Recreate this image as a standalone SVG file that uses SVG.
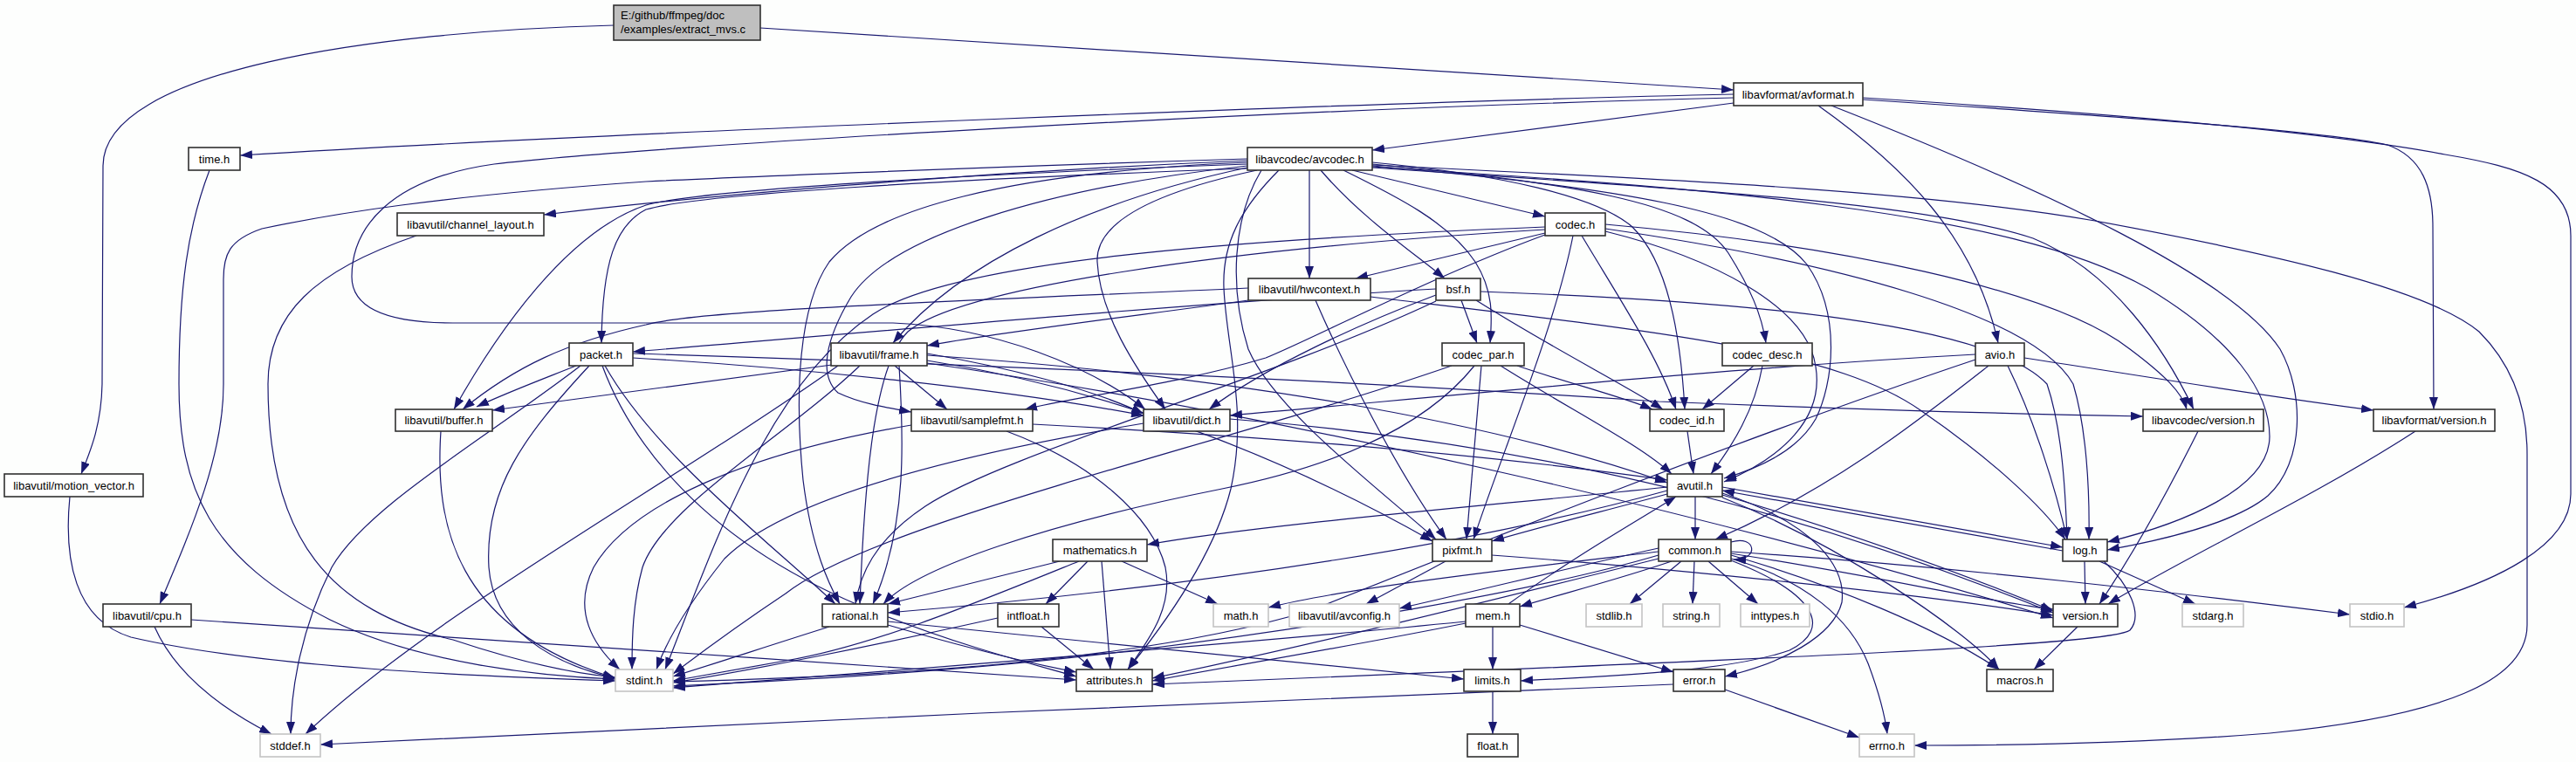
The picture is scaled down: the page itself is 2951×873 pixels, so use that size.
<svg xmlns="http://www.w3.org/2000/svg" width="2951" height="873" viewBox="0 0 2951 873">
<defs>
<style>
.e{fill:none;stroke:#191970;stroke-width:1.2;marker-end:url(#a)}
.n rect{fill:#ffffff;stroke:#303030;stroke-width:1.6}
.g rect{fill:#ffffff;stroke:#c4c4c4;stroke-width:1.6}
text{font-family:"Liberation Sans",Arial,sans-serif;font-size:13px;fill:#000000;text-anchor:middle}
</style>
<marker id="a" markerWidth="14" markerHeight="10" refX="14" refY="5" orient="auto" markerUnits="userSpaceOnUse"><path d="M0,0 L14,5 L0,10 Z" fill="#191970"/></marker>
</defs>
<rect x="0" y="0" width="2951" height="873" fill="#fdfefd"/>
<g id="edges">
<path class="e" d="M703,29 C430,36 118,80 118,190 L117,440 C116,490 102,520 93,543"/>
<path class="e" d="M871,32 L1986,103"/>
<path class="e" d="M1986,108 C1600,116 700,152 275,178"/>
<path class="e" d="M1986,112 C1480,124 740,167 566,188 C445,205 403,262 403,317 C403,352 440,370 519,370 L1023,370 C1140,375 1250,420 1312,469"/>
<path class="e" d="M2134,112 C2500,135 2700,158 2801,177 C2890,192 2945,210 2945,270 L2945,566 C2945,625 2860,668 2754,696"/>
<path class="e" d="M2134,114 C2450,135 2660,150 2735,166 C2775,180 2787,215 2787,260 L2788,469"/>
<path class="e" d="M2083,121 C2180,190 2262,270 2289,393"/>
<path class="e" d="M2098,121 C2350,220 2560,320 2612,400 C2640,450 2640,530 2598,568 C2560,600 2470,620 2414,630"/>
<path class="e" d="M1986,118 L1572,172"/>
<path class="e" d="M1500,195 L1500,319"/>
<path class="e" d="M1513,195 C1560,250 1620,290 1655,319"/>
<path class="e" d="M1549,195 L1770,248"/>
<path class="e" d="M1539,195 C1600,225 1660,255 1690,300 C1712,335 1709,365 1707,393"/>
<path class="e" d="M1572,188 C1800,210 1940,230 1980,290 C2005,330 2018,360 2023,393"/>
<path class="e" d="M1572,190 C1850,215 2020,240 2070,303 C2110,360 2100,440 2080,480 C2060,515 2020,535 1975,548"/>
<path class="e" d="M1572,186 C1720,200 1830,225 1870,260 C1910,300 1925,380 1930,469"/>
<path class="e" d="M1572,192 C1900,215 2200,230 2329,273 C2420,310 2480,400 2513,469"/>
<path class="e" d="M1572,191 C1950,215 2300,240 2460,330 C2560,390 2600,450 2600,500 C2600,560 2500,600 2414,621"/>
<path class="e" d="M1572,189 C1900,205 2200,218 2400,253 C2600,290 2780,330 2840,380 C2880,420 2895,470 2895,520 L2895,716 C2895,780 2800,820 2600,840 C2450,852 2300,854 2193,854"/>
<path class="e" d="M1429,190 C1200,215 1020,270 975,340 C945,390 938,430 960,450 C985,462 1015,467 1044,472"/>
<path class="e" d="M1429,192 C1250,230 1100,300 1023,393"/>
<path class="e" d="M1440,195 C1300,225 1255,262 1257,300 C1260,360 1300,420 1335,469"/>
<path class="e" d="M1429,186 C1150,198 1000,240 950,300 C915,350 910,450 920,550 C930,630 950,670 962,692"/>
<path class="e" d="M1465,195 C1420,240 1400,280 1402,330 C1405,400 1430,470 1410,560 C1390,640 1330,720 1292,767"/>
<path class="e" d="M1429,188 C1100,200 800,218 740,235 C650,265 570,380 520,469"/>
<path class="e" d="M1429,184 C1100,198 800,225 623,246"/>
<path class="e" d="M1429,182 C1100,192 800,205 740,208 C500,225 380,245 300,262 C262,275 256,292 256,320 L256,440 C256,520 222,600 183,692"/>
<path class="e" d="M1429,193 C1100,205 800,222 740,240 C705,258 690,300 689,393"/>
<path class="e" d="M1445,195 C1412,250 1408,330 1430,400 C1460,470 1580,560 1645,618"/>
<path class="e" d="M1770,260 C1400,275 1090,300 1000,360 C880,440 820,620 762,767"/>
<path class="e" d="M1839,265 C1960,295 2070,350 2080,420 C2090,480 2040,525 1975,552"/>
<path class="e" d="M1770,267 L1553,319"/>
<path class="e" d="M1839,262 C2100,300 2330,360 2375,440 C2390,490 2394,560 2393,618"/>
<path class="e" d="M1802,270 C1780,380 1720,520 1688,618"/>
<path class="e" d="M1770,263 C1400,285 1100,330 1040,380 C1000,420 990,560 985,692"/>
<path class="e" d="M1770,269 C1640,317 1500,390 1450,410 C1350,440 1230,455 1174,469"/>
<path class="e" d="M1812,270 C1860,350 1900,410 1920,469"/>
<path class="e" d="M1839,257 C2100,280 2350,330 2440,400 C2480,430 2500,450 2505,469"/>
<path class="e" d="M1430,330 C1100,345 800,355 740,372 C650,392 590,420 530,469"/>
<path class="e" d="M1430,344 C1300,362 1150,380 1062,396"/>
<path class="e" d="M1570,340 C1900,380 2100,400 2200,470 C2280,525 2340,580 2366,618"/>
<path class="e" d="M1507,344 C1540,420 1600,540 1657,618"/>
<path class="e" d="M1645,338 C1560,370 1450,420 1385,469"/>
<path class="e" d="M1696,334 C2000,345 2280,370 2345,440 C2362,490 2366,560 2368,618"/>
<path class="e" d="M1645,345 C1450,437 1150,520 1060,580 C1000,620 985,660 980,692"/>
<path class="e" d="M1691,344 C1780,400 1860,440 1905,469"/>
<path class="e" d="M1674,344 L1692,393"/>
<path class="e" d="M1645,331 C1400,345 1000,380 725,403"/>
<path class="e" d="M665,419 C560,500 420,580 380,650 C345,720 333,790 333,841"/>
<path class="e" d="M675,419 C600,500 555,560 560,650 C565,720 630,760 705,777"/>
<path class="e" d="M690,419 C720,500 800,620 1000,700 C1100,740 1180,760 1233,775"/>
<path class="e" d="M660,419 C620,435 580,450 546,466"/>
<path class="e" d="M725,410 C900,420 1150,445 1310,476"/>
<path class="e" d="M693,419 C750,520 880,620 957,692"/>
<path class="e" d="M725,405 C1200,420 1600,440 1900,460 C2150,470 2350,475 2455,477"/>
<path class="e" d="M960,419 C760,560 500,700 350,841"/>
<path class="e" d="M985,419 C900,500 760,580 736,650 C725,690 724,730 724,767"/>
<path class="e" d="M1062,407 C1400,430 1700,480 1910,553"/>
<path class="e" d="M953,418 L564,470"/>
<path class="e" d="M1062,405 C1150,420 1250,445 1310,474"/>
<path class="e" d="M1030,419 C1035,500 1040,600 1000,692"/>
<path class="e" d="M1025,419 L1085,469"/>
<path class="e" d="M1062,413 C1300,450 1500,540 1641,620"/>
<path class="e" d="M1062,416 C1500,480 2000,600 2352,708"/>
<path class="e" d="M1663,419 C1400,510 1000,600 900,680 C840,720 800,750 771,772"/>
<path class="e" d="M1719,419 C1800,470 1880,510 1915,543"/>
<path class="e" d="M1689,419 C1640,480 1550,530 1400,560 C1200,600 1050,650 1012,692"/>
<path class="e" d="M1697,419 L1680,618"/>
<path class="e" d="M1738,419 C1800,440 1860,455 1893,469"/>
<path class="e" d="M2019,419 C2010,470 1985,510 1960,543"/>
<path class="e" d="M2009,419 L1950,469"/>
<path class="e" d="M2263,412 C2000,500 1700,620 1500,700 C1300,760 1000,775 771,781"/>
<path class="e" d="M2278,419 C2200,480 2100,560 1965,618"/>
<path class="e" d="M2263,406 C2000,420 1700,450 1409,476"/>
<path class="e" d="M2300,419 C2330,480 2355,560 2368,618"/>
<path class="e" d="M2319,410 C2450,430 2600,455 2719,470"/>
<path class="e" d="M505,494 C498,600 520,720 705,777"/>
<path class="e" d="M1044,487 C850,520 720,580 680,650 C655,700 680,740 710,767"/>
<path class="e" d="M1183,486 C1450,500 1700,520 1910,550"/>
<path class="e" d="M1153,494 C1250,530 1320,590 1335,650 C1345,700 1310,740 1292,767"/>
<path class="e" d="M1310,485 C1100,520 900,570 830,640 C790,690 765,730 752,767"/>
<path class="e" d="M1409,480 C1800,510 2100,600 2352,702"/>
<path class="e" d="M1933,494 L1940,543"/>
<path class="e" d="M2518,494 C2480,570 2440,640 2405,692"/>
<path class="e" d="M2767,494 C2650,570 2500,640 2415,692"/>
<path class="e" d="M80,569 C73,640 85,710 150,730 C300,765 550,775 705,780"/>
<path class="e" d="M240,195 C215,260 205,330 205,440 C205,560 240,640 378,710 C480,760 620,775 705,778"/>
<path class="e" d="M477,270 C360,310 307,360 307,440 C307,620 380,700 519,733 C600,760 660,772 705,776"/>
<path class="e" d="M1942,569 L1942,618"/>
<path class="e" d="M1973,565 C2080,600 2115,650 2110,690 C2100,730 2040,760 1976,775"/>
<path class="e" d="M1910,562 C1700,620 1400,670 1017,702"/>
<path class="e" d="M1973,567 C2150,620 2280,670 2352,700"/>
<path class="e" d="M1973,570 C2100,620 2250,720 2290,767"/>
<path class="e" d="M1910,558 C1700,580 1450,600 1314,624"/>
<path class="e" d="M1973,558 L2363,627"/>
<path class="e" d="M1910,566 C1820,590 1760,605 1709,620"/>
<path class="e" d="M1236,643 C1120,690 1000,740 900,757 C850,766 800,775 771,780"/>
<path class="e" d="M1285,643 L1395,692"/>
<path class="e" d="M1262,643 L1272,767"/>
<path class="e" d="M1214,643 L1017,692"/>
<path class="e" d="M1246,643 L1198,692"/>
<path class="e" d="M1656,643 L1565,692"/>
<path class="e" d="M1709,636 C1900,650 2200,680 2352,705"/>
<path class="e" d="M1983,640 C2070,665 2120,710 2140,760 C2155,800 2160,825 2162,841"/>
<path class="e" d="M1957,643 L2014,692"/>
<path class="e" d="M1983,642 C2080,680 2100,720 2050,745 C1980,770 1830,775 1742,780"/>
<path class="e" d="M1900,632 C1750,650 1550,672 1453,696"/>
<path class="e" d="M1900,636 C1750,680 1500,720 1300,745 C1100,770 900,780 771,786"/>
<path class="e" d="M1983,632 C2250,650 2500,680 2692,704"/>
<path class="e" d="M1926,643 L1867,692"/>
<path class="e" d="M1941,643 L1939,692"/>
<path class="e" d="M1900,640 C1700,690 1500,740 1320,777"/>
<path class="e" d="M1983,636 C2100,670 2220,720 2290,767"/>
<path class="e" d="M1983,634 C2150,660 2280,690 2352,698"/>
<path class="e" d="M1900,628 C1800,650 1700,675 1603,697"/>
<path class="e" d="M1915,643 C1850,665 1790,680 1741,695"/>
<path class="e" d="M1983,621 C2012,612 2016,642 1986,641"/>
<path class="e" d="M2405,643 L2515,692"/>
<path class="e" d="M2363,631 L1973,562"/>
<path class="e" d="M2410,643 C2440,670 2455,705 2440,722 C2420,738 2100,752 1320,784"/>
<path class="e" d="M2388,643 L2389,692"/>
<path class="e" d="M219,710 C500,727 900,757 1233,779"/>
<path class="e" d="M177,718 C200,770 250,810 311,841"/>
<path class="e" d="M950,718 C880,740 820,760 771,775"/>
<path class="e" d="M1017,712 C1300,740 1550,765 1677,778"/>
<path class="e" d="M1017,716 C1100,740 1180,760 1233,770"/>
<path class="e" d="M1143,708 C1000,740 850,770 771,782"/>
<path class="e" d="M1193,718 L1253,767"/>
<path class="e" d="M1710,718 L1710,767"/>
<path class="e" d="M1679,712 C1400,740 1000,770 771,788"/>
<path class="e" d="M1679,714 C1550,740 1400,765 1320,780"/>
<path class="e" d="M1741,716 L1917,770"/>
<path class="e" d="M1728,692 C1800,640 1870,600 1920,569"/>
<path class="e" d="M2380,718 L2330,767"/>
<path class="e" d="M1710,792 L1710,841"/>
<path class="e" d="M1976,790 L2130,845"/>
<path class="e" d="M1917,784 C1500,800 800,830 367,853"/>
</g>
<g id="root"><rect x="703" y="6" width="168" height="40" style="fill:#bfbfbf;stroke:#303030;stroke-width:1.6"/><text x="711" y="22" style="text-anchor:start">E:/github/ffmpeg/doc</text><text x="711" y="38" style="text-anchor:start">/examples/extract_mvs.c</text></g>
<g id="avformat" class="n"><rect x="1986" y="95" width="148" height="26"/><text x="2060" y="112.5">libavformat/avformat.h</text></g>
<g id="time" class="n"><rect x="216" y="169" width="59" height="26"/><text x="245.5" y="186.5">time.h</text></g>
<g id="avcodec" class="n"><rect x="1429" y="169" width="143" height="26"/><text x="1500.5" y="186.5">libavcodec/avcodec.h</text></g>
<g id="channel_layout" class="n"><rect x="455" y="244" width="168" height="26"/><text x="539" y="261.5">libavutil/channel_layout.h</text></g>
<g id="codec" class="n"><rect x="1770" y="244" width="69" height="26"/><text x="1804.5" y="261.5">codec.h</text></g>
<g id="hwcontext" class="n"><rect x="1430" y="319" width="140" height="25"/><text x="1500" y="336">libavutil/hwcontext.h</text></g>
<g id="bsf" class="n"><rect x="1645" y="319" width="51" height="25"/><text x="1670.5" y="336">bsf.h</text></g>
<g id="packet" class="n"><rect x="652" y="393" width="73" height="26"/><text x="688.5" y="410.5">packet.h</text></g>
<g id="frame" class="n"><rect x="952" y="393" width="110" height="26"/><text x="1007" y="410.5">libavutil/frame.h</text></g>
<g id="codec_par" class="n"><rect x="1652" y="393" width="94" height="26"/><text x="1699" y="410.5">codec_par.h</text></g>
<g id="codec_desc" class="n"><rect x="1973" y="393" width="103" height="26"/><text x="2024.5" y="410.5">codec_desc.h</text></g>
<g id="avio" class="n"><rect x="2263" y="393" width="56" height="26"/><text x="2291" y="410.5">avio.h</text></g>
<g id="buffer" class="n"><rect x="453" y="469" width="111" height="25"/><text x="508.5" y="486">libavutil/buffer.h</text></g>
<g id="samplefmt" class="n"><rect x="1044" y="469" width="139" height="25"/><text x="1113.5" y="486">libavutil/samplefmt.h</text></g>
<g id="dict" class="n"><rect x="1310" y="469" width="99" height="25"/><text x="1359.5" y="486">libavutil/dict.h</text></g>
<g id="codec_id" class="n"><rect x="1890" y="469" width="85" height="25"/><text x="1932.5" y="486">codec_id.h</text></g>
<g id="lavc_version" class="n"><rect x="2455" y="469" width="138" height="25"/><text x="2524" y="486">libavcodec/version.h</text></g>
<g id="lavf_version" class="n"><rect x="2719" y="469" width="139" height="25"/><text x="2788.5" y="486">libavformat/version.h</text></g>
<g id="motion_vector" class="n"><rect x="5" y="543" width="159" height="26"/><text x="84.5" y="560.5">libavutil/motion_vector.h</text></g>
<g id="avutil" class="n"><rect x="1910" y="543" width="63" height="26"/><text x="1941.5" y="560.5">avutil.h</text></g>
<g id="mathematics" class="n"><rect x="1206" y="618" width="108" height="25"/><text x="1260" y="635">mathematics.h</text></g>
<g id="pixfmt" class="n"><rect x="1641" y="618" width="68" height="25"/><text x="1675" y="635">pixfmt.h</text></g>
<g id="common" class="n"><rect x="1900" y="618" width="83" height="25"/><text x="1941.5" y="635">common.h</text></g>
<g id="log" class="n"><rect x="2363" y="618" width="51" height="25"/><text x="2388.5" y="635">log.h</text></g>
<g id="cpu" class="n"><rect x="118" y="692" width="101" height="26"/><text x="168.5" y="709.5">libavutil/cpu.h</text></g>
<g id="rational" class="n"><rect x="942" y="692" width="75" height="26"/><text x="979.5" y="709.5">rational.h</text></g>
<g id="intfloat" class="n"><rect x="1143" y="692" width="70" height="26"/><text x="1178" y="709.5">intfloat.h</text></g>
<g id="math" class="g"><rect x="1390" y="692" width="63" height="26"/><text x="1421.5" y="709.5">math.h</text></g>
<g id="avconfig" class="g"><rect x="1477" y="692" width="126" height="26"/><text x="1540" y="709.5">libavutil/avconfig.h</text></g>
<g id="mem" class="n"><rect x="1679" y="692" width="62" height="26"/><text x="1710" y="709.5">mem.h</text></g>
<g id="stdlib" class="g"><rect x="1817" y="692" width="64" height="26"/><text x="1849" y="709.5">stdlib.h</text></g>
<g id="string" class="g"><rect x="1905" y="692" width="65" height="26"/><text x="1937.5" y="709.5">string.h</text></g>
<g id="inttypes" class="g"><rect x="1994" y="692" width="79" height="26"/><text x="2033.5" y="709.5">inttypes.h</text></g>
<g id="version" class="n"><rect x="2352" y="692" width="74" height="26"/><text x="2389" y="709.5">version.h</text></g>
<g id="stdarg" class="g"><rect x="2500" y="692" width="70" height="26"/><text x="2535" y="709.5">stdarg.h</text></g>
<g id="stdio" class="g"><rect x="2692" y="692" width="62" height="26"/><text x="2723" y="709.5">stdio.h</text></g>
<g id="stdint" class="g"><rect x="705" y="767" width="66" height="25"/><text x="738" y="784">stdint.h</text></g>
<g id="attributes" class="n"><rect x="1233" y="767" width="87" height="25"/><text x="1276.5" y="784">attributes.h</text></g>
<g id="limits" class="n"><rect x="1677" y="767" width="65" height="25"/><text x="1709.5" y="784">limits.h</text></g>
<g id="error" class="n"><rect x="1917" y="767" width="59" height="25"/><text x="1946.5" y="784">error.h</text></g>
<g id="macros" class="n"><rect x="2276" y="767" width="76" height="25"/><text x="2314" y="784">macros.h</text></g>
<g id="stddef" class="g"><rect x="298" y="841" width="69" height="26"/><text x="332.5" y="858.5">stddef.h</text></g>
<g id="float" class="n"><rect x="1681" y="841" width="58" height="26"/><text x="1710" y="858.5">float.h</text></g>
<g id="errno" class="g"><rect x="2130" y="841" width="63" height="26"/><text x="2161.5" y="858.5">errno.h</text></g>
</svg>
